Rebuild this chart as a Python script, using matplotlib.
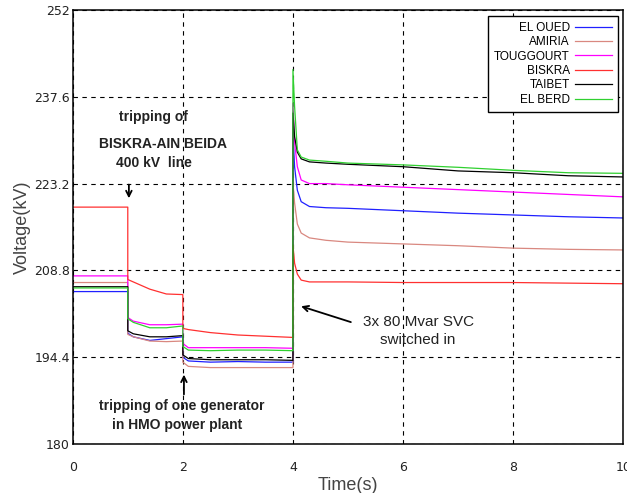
import matplotlib
matplotlib.use("Agg")
import matplotlib.pyplot as plt

# time samples (s); repeated instants give the vertical jumps
t = [0, 1, 1, 1.1, 1.4, 1.7, 2, 2, 2.1, 2.5, 3, 3.5, 4, 4, 4.03, 4.08, 4.15, 4.3, 4.6, 5, 6, 7, 8, 9, 10]

el_oued = [205.3, 205.3, 198.4, 197.8, 197.2, 197.5, 197.8, 194.4, 193.8, 193.6, 193.7, 193.6, 193.6,
           231.7, 226.0, 222.1, 220.2, 219.4, 219.2, 219.1, 218.7, 218.3, 218.0, 217.7, 217.5]
amiria = [206.8, 206.8, 198.2, 197.8, 197.1, 197.0, 197.1, 193.6, 192.9, 192.7, 192.7, 192.7, 192.7,
          223.5, 220.0, 216.5, 215.0, 214.2, 213.8, 213.5, 213.2, 212.9, 212.5, 212.3, 212.2]
touggourt = [207.9, 207.9, 201.0, 200.4, 199.8, 199.8, 199.9, 196.7, 196.0, 196.0, 196.0, 196.0, 195.9,
             236.5, 230.0, 226.0, 223.8, 223.2, 223.2, 223.0, 222.6, 222.2, 221.8, 221.4, 221.0]
biskra = [219.3, 219.3, 207.3, 206.9, 205.7, 204.9, 204.8, 199.2, 199.0, 198.5, 198.1, 197.9, 197.7,
          213.0, 210.0, 208.2, 207.2, 206.9, 206.9, 206.9, 206.8, 206.8, 206.8, 206.7, 206.6]
taibet = [206.1, 206.1, 198.8, 198.3, 197.8, 197.8, 198.0, 194.8, 194.2, 194.0, 194.0, 194.0, 193.9,
          234.9, 231.0, 228.4, 227.3, 226.8, 226.6, 226.4, 226.0, 225.3, 225.0, 224.5, 224.3]
el_berd = [205.9, 205.9, 200.8, 200.2, 199.3, 199.3, 199.6, 196.2, 195.6, 195.5, 195.6, 195.6, 195.5,
           242.1, 236.0, 228.8, 227.6, 227.1, 226.9, 226.6, 226.3, 225.9, 225.4, 225.0, 224.9]

names = ["EL OUED", "AMIRIA", "TOUGGOURT", "BISKRA", "TAIBET", "EL BERD"]
series = [el_oued, amiria, touggourt, biskra, taibet, el_berd]
colors = ["#2020ff", "#d98880", "#ff00ff", "#ff3030", "#000000", "#30d030"]

yticks = [180, 194.4, 208.8, 223.2, 237.6, 252]
xticks = [0, 2, 4, 6, 8, 10]

fig = plt.figure(figsize=(6.27, 4.93), dpi=100)
ax = fig.add_axes([0.116, 0.099, 0.878, 0.881])

for name, vals, c in zip(names, series, colors):
    ax.plot(t, vals, color=c, lw=0.9, label=name)

ax.set_xlim(0, 10)
ax.set_ylim(180, 252)
ax.set_xticks(xticks)
ax.set_yticks(yticks)
ax.set_yticklabels([f"{v:g}" for v in yticks])
ax.tick_params(axis="both", length=0, labelsize=9, colors="#222222")
ax.tick_params(axis="x", pad=12)
ax.tick_params(axis="y", pad=2)
ax.grid(True, color="black", linestyle=(0, (4, 4)), lw=0.8)
for sp in ax.spines.values():
    sp.set_linewidth(1.1)

ax.set_xlabel("Time(s)", family="Liberation Sans", fontsize=13, color="#444444", labelpad=2)
ax.set_ylabel("Voltage(kV)", family="Liberation Sans", fontsize=13, color="#444444", labelpad=2)

leg = ax.legend(loc="upper right", bbox_to_anchor=(0.991, 0.986), borderaxespad=0,
                markerfirst=False, fancybox=False, framealpha=1, edgecolor="black",
                prop={"family": "Liberation Sans", "size": 8.5}, labelspacing=0.2,
                handlelength=3.2, handletextpad=0.4, borderpad=0.5)
leg.get_frame().set_linewidth(1.0)

bold = dict(family="Liberation Sans", fontsize=10, fontweight="bold", color="#222222", ha="center", va="center")
ax.text(1.47, 234.2, "tripping of", **bold)
ax.text(1.64, 229.8, "BISKRA-AIN BEIDA", **bold)
ax.text(1.47, 226.6, "400 kV  line", **bold)
ax.annotate("", xy=(1.02, 220.3), xytext=(1.02, 223.5),
            arrowprops=dict(arrowstyle="->", color="black", lw=1.3))

ax.text(1.98, 186.3, "tripping of one generator", **bold)
ax.text(1.89, 183.2, "in HMO power plant", **bold)
ax.annotate("", xy=(2.02, 192.0), xytext=(2.02, 187.8),
            arrowprops=dict(arrowstyle="->", color="black", lw=1.3))

reg = dict(family="Liberation Sans", fontsize=11, color="#222222", ha="center", va="center")
ax.text(6.29, 200.2, "3x 80 Mvar SVC", **reg)
ax.text(6.26, 197.2, "switched in", **reg)
ax.annotate("", xy=(4.1, 203.0), xytext=(5.1, 200.1),
            arrowprops=dict(arrowstyle="->", color="black", lw=1.3))

fig.savefig("out.png", dpi=100)
